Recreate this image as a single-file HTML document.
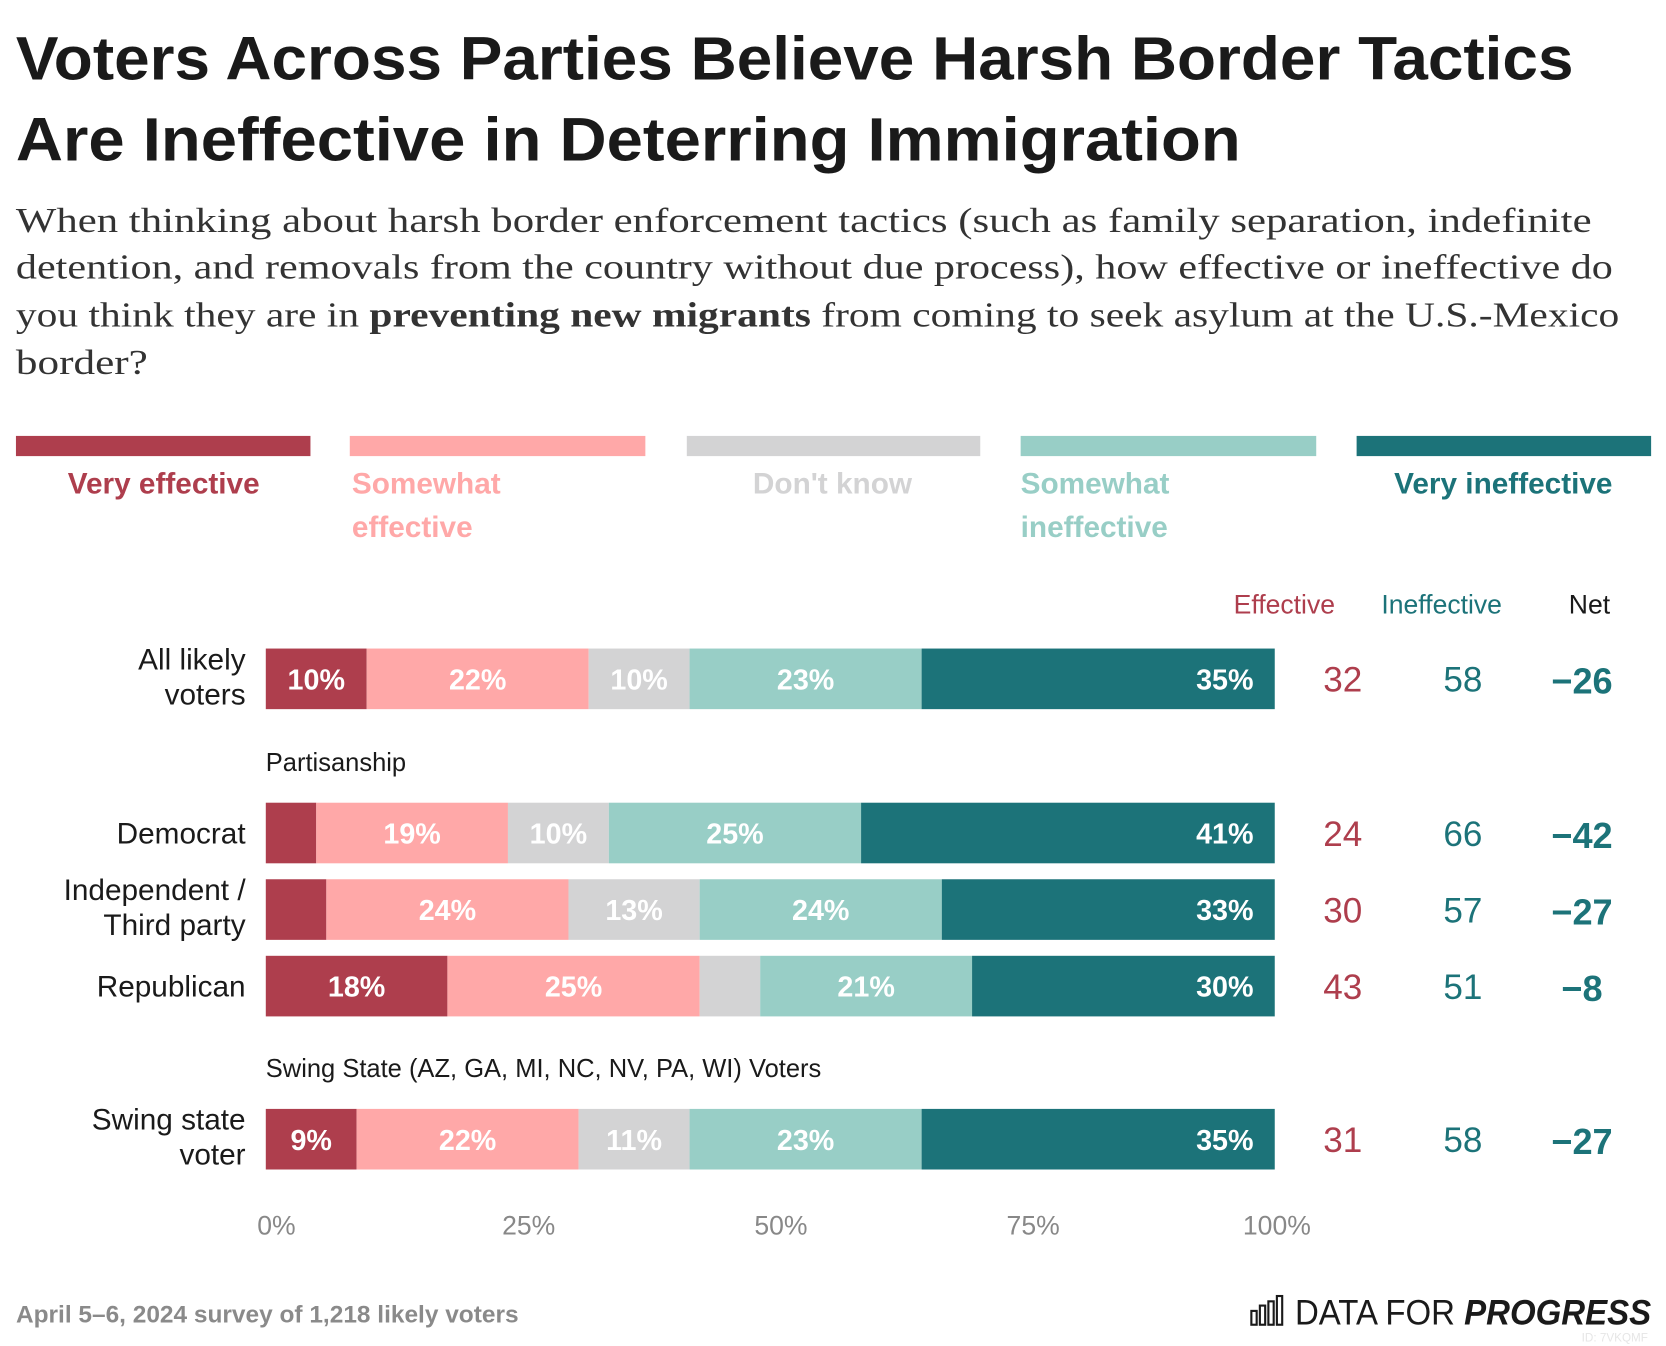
<!DOCTYPE html>
<html><head><meta charset="utf-8"><style>
html,body{margin:0;padding:0;background:#fff;}
svg{display:block;}
text{font-family:"Liberation Sans",sans-serif;}
.serif{font-family:"Liberation Serif",serif;}
</style></head><body>
<svg id="chart" width="1666" height="1346" viewBox="0 0 1567 1266" xmlns="http://www.w3.org/2000/svg">
<rect width="1567" height="1266" fill="#fff"/>
<g font-weight="bold" font-size="58" fill="#1a1a1a">
<text x="15" y="75" textLength="1465" lengthAdjust="spacingAndGlyphs">Voters Across Parties Believe Harsh Border Tactics</text>
<text x="15" y="151" textLength="1152" lengthAdjust="spacingAndGlyphs">Are Ineffective in Deterring Immigration</text>
</g>
<g class="serif" font-size="33" fill="#333">
<text class="serif" x="15" y="218" textLength="1482" lengthAdjust="spacingAndGlyphs">When thinking about harsh border enforcement tactics (such as family separation, indefinite</text>
<text class="serif" x="15" y="262" textLength="1502" lengthAdjust="spacingAndGlyphs">detention, and removals from the country without due process), how effective or ineffective do</text>
<text class="serif" x="15" y="307" textLength="1508" lengthAdjust="spacingAndGlyphs">you think they are in <tspan font-weight="bold">preventing new migrants</tspan> from coming to seek asylum at the U.S.-Mexico</text>
<text class="serif" x="15" y="352" textLength="124" lengthAdjust="spacingAndGlyphs">border?</text>
</g>
<g id="legend" font-size="28" font-weight="bold"></g>
<g font-size="25">
<text x="1208" y="577" text-anchor="middle" fill="#ae3e4d">Effective</text>
<text x="1356" y="577" text-anchor="middle" fill="#1c7379">Ineffective</text>
<text x="1495" y="577" text-anchor="middle" fill="#1a1a1a">Net</text>
</g>
<text x="250" y="725" font-size="24" fill="#1a1a1a">Partisanship</text>
<text x="250" y="1013" font-size="24" fill="#1a1a1a">Swing State (AZ, GA, MI, NC, NV, PA, WI) Voters</text>
<g id="bars"></g>
<g id="axis"></g>
<text x="15" y="1244" font-size="23" font-weight="bold" fill="#8a8a8a">April 5–6, 2024 survey of 1,218 likely voters</text>
<g>
<g fill="none" stroke="#1a1a1a" stroke-width="2">
<rect x="1177" y="1233" width="5" height="13"/><rect x="1185" y="1228" width="5" height="18"/><rect x="1193" y="1224" width="5" height="22"/><rect x="1201" y="1219" width="5" height="27"/>
</g>
<text x="1218" y="1246" font-size="33" fill="#1a1a1a" textLength="335" lengthAdjust="spacingAndGlyphs">DATA FOR <tspan font-weight="bold" font-style="italic">PROGRESS</tspan></text>
<text x="1550" y="1262" font-size="11" fill="#e6e6e6" text-anchor="end">ID: 7VKQMF</text>
</g>
</svg>
<script>
const categories = ["All likely voters","Democrat","Independent / Third party","Republican","Swing state voter"];
const labelLines = [["All likely","voters"],["Democrat"],["Independent /","Third party"],["Republican"],["Swing state","voter"]];
const veryEffective = [10,5,6,18,9];
const somewhatEffective = [22,19,24,25,22];
const dontKnow = [10,10,13,6,11];
const somewhatIneffective = [23,25,24,21,23];
const veryIneffective = [35,41,33,30,35];
const effectiveTotal = [32,24,30,43,31];
const ineffectiveTotal = [58,66,57,51,58];
const netValues = [-26,-42,-27,-8,-27];
const ticks = [0,25,50,75,100];
const seriesNames = ["Very effective","Somewhat effective","Don't know","Somewhat ineffective","Very ineffective"];
const seriesLabelLines = [["Very effective"],["Somewhat","effective"],["Don't know"],["Somewhat","ineffective"],["Very ineffective"]];

const colors = ["#ae3e4d","#ffa8a8","#d3d3d4","#98cec6","#1c7379"];
const series = [veryEffective,somewhatEffective,dontKnow,somewhatIneffective,veryIneffective];
const NS = "http://www.w3.org/2000/svg";
const X0 = 250, X1 = 1199;
const xScale = v => X0 + (X1 - X0) * v / 100;
const rowTops = [610,755,827,899,1043];
const BAR_H = 57;
function mk(tag, attrs, parent){const e=document.createElementNS(NS,tag);for(const k in attrs)e.setAttribute(k,attrs[k]);parent.appendChild(e);return e;}

const legend = document.getElementById('legend');
const legX = [15,329,646,960,1276], legW = [277,278,276,278,277];
const legTextX = [[154,'middle'],[331,'start'],[783,'middle'],[960,'start'],[1414,'middle']];
seriesNames.forEach((n,i)=>{
  const r = mk('rect',{x:legX[i],y:410,width:legW[i],height:19,fill:colors[i]},legend);
  
  
  const t = mk('text',{x:legTextX[i][0],y:464,'text-anchor':legTextX[i][1],fill:colors[i],'font-size':28},legend);
  
  
  seriesLabelLines[i].forEach((l,j)=>{const ts=mk('tspan',{x:legTextX[i][0],dy:j?41:0},t);ts.textContent=l;});
});

const bars = document.getElementById('bars');
categories.forEach((c,ri)=>{
  const top = rowTops[ri], cy = top + BAR_H/2;
  const lines = labelLines[ri];
  const lab = mk('text',{x:231,'text-anchor':'end','font-size':28,fill:'#1a1a1a'},bars);
  
  
  lines.forEach((l,j)=>{const ts=mk('tspan',{x:231,y: lines.length===1? cy+10 : cy - 9 + j*33},lab);ts.textContent=l;});
  let cum = 0;
  series.forEach((s,si)=>{
    const v = s[ri];
    const x = xScale(cum), w = xScale(cum+v)-x;
    const r = mk('rect',{x:x,y:top,width:w,height:BAR_H,fill:colors[si]},bars);
    
    
    if (v >= 8) {
      const tx = si===4 ? xScale(cum+v)-20 : x + w/2;
      const t = mk('text',{x:tx,y:cy+10,'text-anchor':si===4?'end':'middle','font-size':27,'font-weight':'bold',fill:'#fff'},bars);
      
      
      t.textContent = v + '%';
    }
    cum += v;
  });
  const e = mk('text',{x:1263,y:cy+12,'text-anchor':'middle','font-size':33,fill:'#ae3e4d'},bars);
  
  
  e.textContent = effectiveTotal[ri];
  const n = mk('text',{x:1376,y:cy+12,'text-anchor':'middle','font-size':33,fill:'#1c7379'},bars);
  
  
  n.textContent = ineffectiveTotal[ri];
  const nt = mk('text',{x:1488,y:cy+14,'text-anchor':'middle','font-size':34,'font-weight':'bold',fill:'#1c7379'},bars);
  
  
  nt.textContent = (netValues[ri]<0?'\u2212':'+') + Math.abs(netValues[ri]);
});

const axis = document.getElementById('axis');
ticks.forEach(t=>{
  const e = mk('text',{x:xScale(t)+ (t===100?2:10),y:1161,'text-anchor':'middle','font-size':25,fill:'#888'},axis);
  
  
  e.textContent = t + '%';
});
</script>
</body></html>
